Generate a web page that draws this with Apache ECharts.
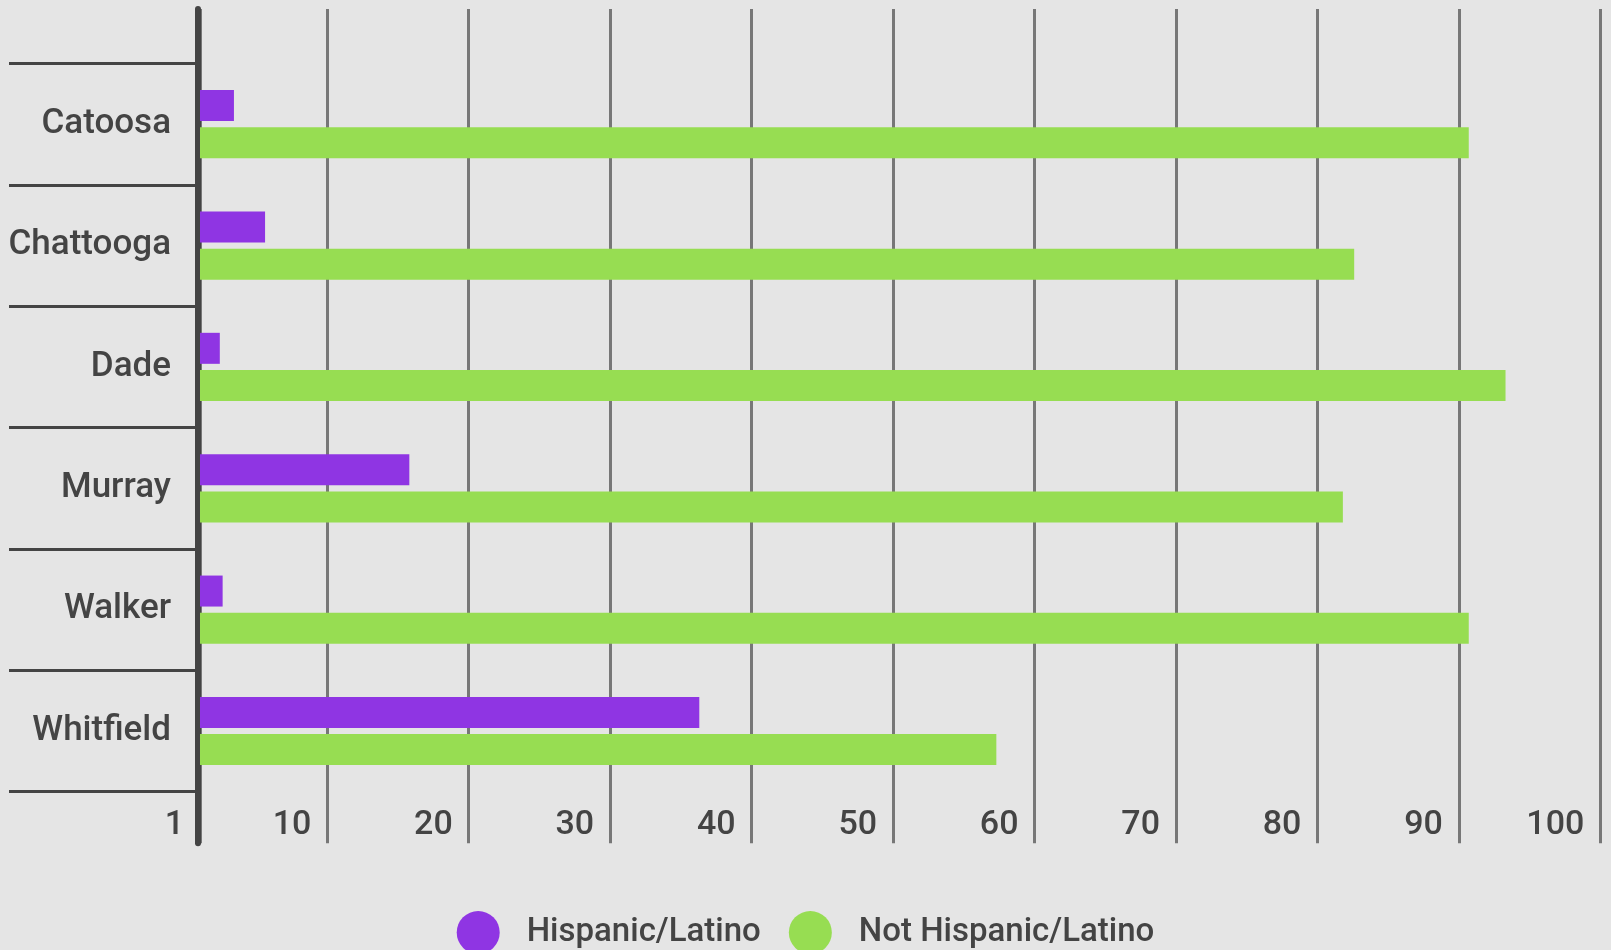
<!DOCTYPE html>
<html>
<head>
<meta charset="utf-8">
<script src="https://cdn.jsdelivr.net/npm/echarts@6/dist/echarts.min.js"></script>
<style>
html,body{margin:0;padding:0;background:#e5e5e5;}
#chart{width:1611px;height:950px;}
</style>
</head>
<body>
<div id="chart"></div>
<script>
var categories = ['Catoosa', 'Chattooga', 'Dade', 'Murray', 'Walker', 'Whitfield'];
var hispanic = [3.4, 5.6, 2.4, 15.8, 2.6, 36.3];
var notHispanic = [90.7, 82.6, 93.3, 81.8, 90.7, 57.3];
var xTicks = [1, 10, 20, 30, 40, 50, 60, 70, 80, 90, 100];
var seriesNames = ['Hispanic/Latino', 'Not Hispanic/Latino'];

var FONT = 'Roboto';
var TEXT = '#444444';
var chart = echarts.init(document.getElementById('chart'), null, {renderer: 'canvas'});
chart.setOption({
  backgroundColor: '#e5e5e5',
  animation: false,
  grid: [
    {left: 200, width: 1400.3, top: 9, height: 834.3},
    {left: 200, width: 1400.3, top: 63.5, height: 728.2}
  ],
  legend: {
    data: seriesNames,
    left: 'center',
    top: 911,
    icon: 'circle',
    itemWidth: 43,
    itemHeight: 43,
    itemGap: 28,
    padding: 0,
    textStyle: {fontFamily: FONT, fontSize: 33, fontWeight: 500, color: TEXT, padding: [4, 0, 0, 22]}
  },
  xAxis: [
    {
      gridIndex: 0, type: 'value', min: 1, max: 100,
      axisLine: {show: false},
      axisTick: {show: false, customValues: xTicks},
      splitLine: {show: true, lineStyle: {color: '#777777', width: 3}},
      axisLabel: {
        show: true, inside: true, margin: 18, customValues: xTicks,
        align: 'right', verticalAlign: 'middle', padding: [0, 16, 0, 0],
        fontFamily: FONT, fontSize: 34, fontWeight: 500, color: TEXT,
        showMinLabel: true, showMaxLabel: true
      }
    },
    {
      gridIndex: 1, type: 'value', min: 1, max: 100, show: false
    }
  ],
  yAxis: [
    {
      gridIndex: 0, type: 'value', min: 0, max: 1, offset: 2,
      axisLine: {show: true, lineStyle: {color: '#444444', width: 6}},
      axisTick: {show: false}, axisLabel: {show: false}, splitLine: {show: false}
    },
    {
      gridIndex: 1, type: 'category', data: categories, inverse: true,
      axisLine: {show: false},
      axisTick: {show: true, length: 191, lineStyle: {color: '#444444', width: 3}},
      axisLabel: {margin: 29, fontFamily: FONT, fontSize: 35, fontWeight: 500, color: TEXT, padding: [11, 0, 0, 0]},
      splitLine: {show: false}
    }
  ],
  series: [
    {
      name: seriesNames[0], type: 'bar', xAxisIndex: 1, yAxisIndex: 1,
      data: hispanic, barWidth: 31, barGap: '20%',
      itemStyle: {color: '#8f35e3'}
    },
    {
      name: seriesNames[1], type: 'bar', xAxisIndex: 1, yAxisIndex: 1,
      data: notHispanic, barWidth: 31, barGap: '20%',
      itemStyle: {color: '#97dd52'}
    }
  ]
});
</script>
</body>
</html>
